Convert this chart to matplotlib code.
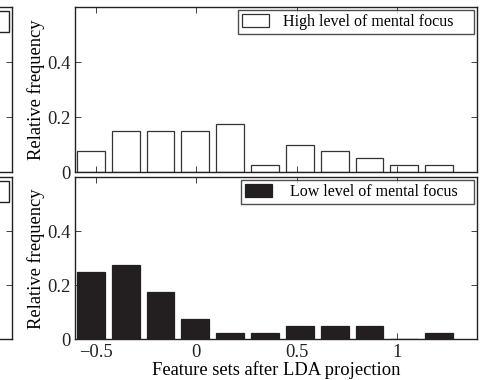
"""
Relative-frequency histograms of LDA-projected feature sets,
high vs. low mental focus (two stacked panels, MATLAB look).
"""
import matplotlib
matplotlib.use("Agg")
import matplotlib.pyplot as plt
from matplotlib.patches import Rectangle

plt.rcParams['font.family'] = ['Liberation Serif', 'DejaVu Serif']
plt.rcParams['axes.unicode_minus'] = True

# bin centres of the histogram (LDA projection axis)
bin_centers = [-0.525, -0.352, -0.178, -0.005, 0.169, 0.342, 0.516,
               0.689, 0.863, 1.036, 1.210]
# relative frequencies (40 samples per class)
high_freq = [0.075, 0.15, 0.15, 0.15, 0.175, 0.025, 0.10, 0.075, 0.05, 0.025, 0.025]
low_freq = [0.25, 0.275, 0.175, 0.075, 0.025, 0.025, 0.05, 0.05, 0.05, 0.0, 0.025]

x_ticks = [-0.5, 0, 0.5, 1]
x_ticklabels = ['\u22120.5', '0', '0.5', '1']
y_ticks = [0, 0.2, 0.4]
y_ticklabels = ['0', '0.2', '0.4']

BAR_W = 0.8 * 0.1735
EDGE = '#333333'
DARK = '#231f20'
FS = 13.3


def matlab_style(ax):
    ax.set_xlim(-0.604, 1.398)
    ax.set_ylim(0, 0.6)
    ax.tick_params(direction='in', length=4, width=0.6, top=True, right=True,
                   labelsize=FS, pad=3, colors='#222222')
    for sp in ax.spines.values():
        sp.set_linewidth(1.0)
        sp.set_color('#222222')
    ax.set_yticks(y_ticks)
    ax.set_xticks(x_ticks)


def legend(ax, label, textpad, trail):
    # trailing spaces give the wide right margin of the MATLAB legend box
    leg = ax.legend([label + ' ' * trail], loc='upper right', fontsize=11.5,
                    frameon=True, fancybox=False, borderaxespad=0.2,
                    handlelength=1.7, handleheight=0.85, handletextpad=textpad,
                    borderpad=0.25)
    leg.get_frame().set_edgecolor('#222222')
    leg.get_frame().set_linewidth(1.0)
    return leg


fig = plt.figure(figsize=(4.84, 3.8), dpi=100)

# cut-off neighbouring panels at the left edge (only their right side shows)
for bottom, h in [(0.547, 0.4346), (0.1066, 0.4274)]:
    frag = fig.add_axes([-0.81, bottom, 0.834, h])
    matlab_style(frag)
    frag.set_xticklabels([])
    frag.set_yticklabels([])
    frag.tick_params(top=False, bottom=False)
    box_h = 21 / (h * 380)
    frag.add_patch(Rectangle((0.6, 1 - box_h - 4 / (h * 380)), 0.394, box_h,
                             transform=frag.transAxes, facecolor='white',
                             edgecolor='#222222', linewidth=1.0))

ax1 = fig.add_axes([0.155, 0.547, 0.8305, 0.4346])
ax2 = fig.add_axes([0.155, 0.1066, 0.8305, 0.4274])

ax1.bar(bin_centers, high_freq, width=BAR_W, facecolor='white',
        edgecolor=EDGE, linewidth=0.9)
ax2.bar(bin_centers, low_freq, width=BAR_W, facecolor=DARK,
        edgecolor=DARK, linewidth=0.9)

for ax in (ax1, ax2):
    matlab_style(ax)
    ax.set_yticklabels(y_ticklabels)
    ax.set_ylabel('Relative frequency', fontsize=FS, labelpad=2)

ax1.set_xticklabels([])
ax2.set_xticklabels(x_ticklabels)
ax2.set_xlabel('Feature sets after LDA projection', fontsize=FS, labelpad=0)

legend(ax1, 'High level of mental focus', 0.9, 4)
legend(ax2, 'Low level of mental focus', 1.1, 3)

fig.savefig('out.png', dpi=100)
